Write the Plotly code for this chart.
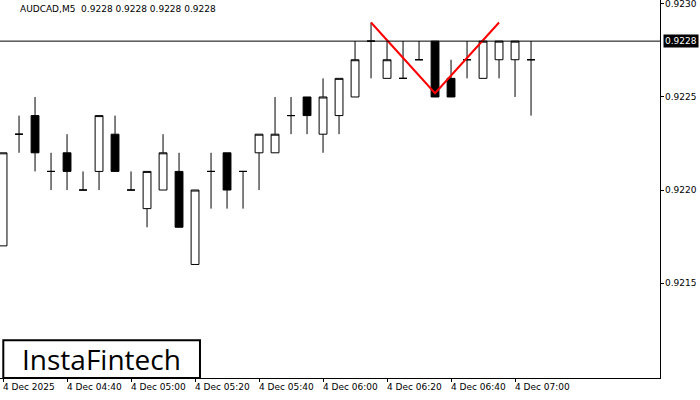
import plotly.graph_objects as go

times = ["04:20","04:25","04:30","04:35","04:40","04:45","04:50","04:55","05:00","05:05","05:10","05:15",
         "05:20","05:25","05:30","05:35","05:40","05:45","05:50","05:55","06:00","06:05","06:10","06:15",
         "06:20","06:25","06:30","06:35","06:40","06:45","06:50","06:55","07:00","07:05"]
opens  = [0.9217,0.9223,0.9224,0.9221,0.9222,0.9220,0.9221,0.9223,0.9220,0.9219,0.9220,0.9221,
          0.9216,0.9221,0.9222,0.9221,0.9222,0.9222,0.9224,0.9225,0.9223,0.9224,0.9225,0.9228,
          0.9226,0.9226,0.9227,0.9228,0.9226,0.9227,0.9226,0.9227,0.9227,0.9227]
highs  = [0.9222,0.9224,0.9225,0.9222,0.9223,0.9221,0.9224,0.9224,0.9221,0.9221,0.9223,0.9222,
          0.9220,0.9222,0.9222,0.9221,0.9223,0.9225,0.9225,0.9225,0.9226,0.9226,0.9228,0.9229,
          0.9228,0.9228,0.9228,0.9228,0.9227,0.9228,0.9228,0.9228,0.9228,0.9228]
lows   = [0.9217,0.9222,0.9221,0.9220,0.9220,0.9220,0.9220,0.9221,0.9220,0.9218,0.9220,0.9218,
          0.9216,0.9219,0.9219,0.9219,0.9220,0.9222,0.9223,0.9223,0.9222,0.9223,0.9225,0.9226,
          0.9226,0.9226,0.9227,0.9225,0.9225,0.9226,0.9226,0.9226,0.9225,0.9224]
closes = [0.9222,0.9223,0.9222,0.9221,0.9221,0.9220,0.9224,0.9221,0.9220,0.9221,0.9222,0.9218,
          0.9220,0.9221,0.9220,0.9221,0.9223,0.9223,0.9224,0.9224,0.9225,0.9226,0.9227,0.9228,
          0.9227,0.9226,0.9227,0.9225,0.9225,0.9227,0.9228,0.9228,0.9228,0.9227]
pattern_idx = [23, 27, 31]
pattern_price = [0.9229, 0.92252, 0.9229]
tick_idx = [0, 4, 8, 12, 16, 20, 24, 28, 32]
tick_text = ["4 Dec 2025","4 Dec 04:40","4 Dec 05:00","4 Dec 05:20","4 Dec 05:40",
             "4 Dec 06:00","4 Dec 06:20","4 Dec 06:40","4 Dec 07:00"]
price_ticks = [0.9215, 0.9220, 0.9225, 0.9230]
last_price = 0.9228

x = list(range(len(times)))
fig = go.Figure()
fig.add_trace(go.Candlestick(x=x, open=opens, high=highs, low=lows, close=closes,
    increasing=dict(line=dict(color="black", width=1), fillcolor="white"),
    decreasing=dict(line=dict(color="black", width=1), fillcolor="black"),
    whiskerwidth=0, showlegend=False, hoverinfo="skip"))
fig.add_trace(go.Scatter(x=pattern_idx, y=pattern_price, mode="lines",
    line=dict(color="red", width=2), showlegend=False))
fig.add_hline(y=last_price, line=dict(color="black", width=1))
fig.update_layout(width=700, height=400, margin=dict(l=0, r=40, t=0, b=22, autoexpand=False),
    paper_bgcolor="white", plot_bgcolor="white",
    font=dict(family="DejaVu Sans", size=9, color="black"))
fig.update_xaxes(range=[-0.19, 41.06], tickvals=tick_idx, ticktext=[""]*len(tick_idx), showgrid=False,
    rangeslider=dict(visible=False), showline=True, linecolor="black", mirror=True,
    ticks="outside", ticklen=3, tickcolor="black")
fig.update_yaxes(range=[0.92099, 0.923021], side="right", tickvals=price_ticks,
    ticktext=[""]*len(price_ticks), showgrid=False, showline=True,
    linecolor="black", mirror=True, ticks="outside", ticklen=3, tickcolor="black")
for i, t in zip(tick_idx, tick_text):
    fig.add_annotation(x=i, xref="x", y=0, yref="paper", yanchor="top", xanchor="left", text=t,
        showarrow=False, xshift=-2, yshift=-2, font=dict(size=9))
for v in price_ticks:
    fig.add_annotation(x=1, xref="paper", y=v, yref="y", xanchor="left", text=f"{v:.4f}",
        showarrow=False, xshift=3, font=dict(size=9))
fig.add_annotation(x=1, xref="paper", y=last_price, yref="y", xanchor="left", text=f"{last_price:.4f}",
    showarrow=False, bgcolor="black", font=dict(color="white", size=9), xshift=3)
fig.add_annotation(x=0.027, xref="paper", y=0.995, yref="paper", xanchor="left", yanchor="top",
    text="AUDCAD,M5  0.9228 0.9228 0.9228 0.9228", showarrow=False, font=dict(size=9))
fig.add_shape(type="rect", xref="paper", yref="paper", x0=0.005, x1=0.303, y0=0.0, y1=0.1,
    line=dict(color="black", width=2), fillcolor="white")
fig.add_annotation(x=0.154, xref="paper", y=0.05, yref="paper", xanchor="center", yanchor="middle",
    text="InstaFintech", showarrow=False, font=dict(family="Open Sans", size=28, color="black"))
fig.write_html("out.html", config={"displayModeBar": False},
    post_script="document.body.style.margin='0';document.body.style.padding='0';")
